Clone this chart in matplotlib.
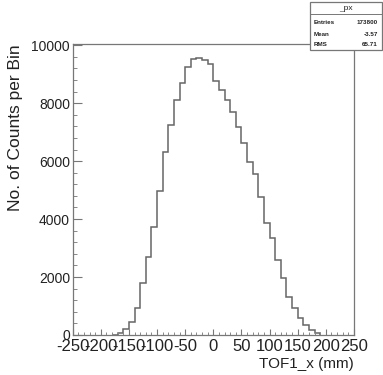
import matplotlib
matplotlib.use("Agg")
import matplotlib.pyplot as plt
from matplotlib.patches import Rectangle
from matplotlib.ticker import MultipleLocator

plt.rcParams['font.family'] = ['Liberation Sans', 'DejaVu Sans']
plt.rcParams['axes.unicode_minus'] = False

# bin edges of the TOF1_x histogram (mm)
bin_edges = [-180, -170, -160, -150, -140, -130, -120, -110, -100, -90,
             -80, -70, -60, -50, -40, -30, -20, -10, 0, 10,
             20, 30, 40, 50, 60, 70, 80, 90, 100, 110,
             120, 130, 140, 150, 160, 170, 180, 190]
# counts per bin
counts = [10, 60, 195, 460, 940, 1780, 2680, 3740, 4980, 6330,
          7230, 8100, 8700, 9250, 9520, 9560, 9480, 9340, 8770, 8450,
          8100, 7700, 7180, 6610, 5980, 5550, 4770, 3850, 3330, 2590,
          1960, 1320, 920, 580, 345, 170, 60]

x_ticks = [-250, -200, -150, -100, -50, 0, 50, 100, 150, 200, 250]
y_ticks = [0, 2000, 4000, 6000, 8000, 10000]

stats_names = ["Entries", "Mean", "RMS"]
stats_values = ["173800", "-3.57", "65.71"]

W, H = 383, 375
fig = plt.figure(figsize=(W / 100, H / 100), dpi=100)
ax = fig.add_axes([72.7 / W, 1 - 335 / H, (354 - 72.7) / W, (335 - 44) / H])

ax.stairs(counts, bin_edges, color='#666666', lw=1.1)

ax.set_xlim(-250, 250)
ax.set_ylim(0, 10040)
ax.set_xticks(x_ticks)
ax.set_xticklabels([str(v) for v in x_ticks])
ax.set_yticks(y_ticks)
ax.set_yticklabels([str(v) for v in y_ticks])
ax.xaxis.set_minor_locator(MultipleLocator(10))
ax.yaxis.set_minor_locator(MultipleLocator(400))

for s in ax.spines.values():
    s.set_color('#777777')
    s.set_linewidth(0.9)

# ROOT style: ticks point into the frame, labels are a bit crowded on x
ax.tick_params(axis='x', which='major', direction='in', length=4.5, width=0.8,
               colors='#777777', labelcolor='#222222', labelsize=12, pad=3)
ax.tick_params(axis='x', which='minor', direction='in', length=2.2, width=0.7,
               colors='#888888')
ax.tick_params(axis='y', which='major', direction='in', length=6.5, width=0.8,
               colors='#777777', labelcolor='#222222', labelsize=10, pad=2)
ax.tick_params(axis='y', which='minor', direction='in', length=3.2, width=0.7,
               colors='#888888')

ax.set_xlabel("TOF1_x (mm)", fontsize=11, color='#222222', loc='right', labelpad=2)
ax.set_ylabel("No. of Counts per Bin", fontsize=12.5, color='#222222', loc='top',
              labelpad=6)

# stats box in the top right corner
bx0, bx1 = 310 / W, 382 / W
by0, by1 = 1 - 50 / H, 1 - 2 / H
fig.add_artist(Rectangle((bx0, by0), bx1 - bx0, by1 - by0, transform=fig.transFigure,
                         facecolor='white', edgecolor='#777777', lw=0.9, zorder=5))
fig.add_artist(plt.Line2D([bx0, bx1], [1 - 14 / H, 1 - 14 / H], transform=fig.transFigure,
                          color='#777777', lw=0.7, zorder=6))
fig.text((bx0 + bx1) / 2, 1 - 8 / H, "_px", ha='center', va='center', fontsize=6,
         color='#222222', zorder=7)
rows_y = [23, 34, 44]
for name, val, yy in zip(stats_names, stats_values, rows_y):
    fig.text(bx0 + 4 / W, 1 - yy / H, name, ha='left', va='center', fontsize=4.5,
             color='#222222', zorder=7, fontweight='bold')
    fig.text(bx1 - 4 / W, 1 - yy / H, val, ha='right', va='center', fontsize=4.5,
             color='#222222', zorder=7, fontweight='bold')

fig.savefig("out.png", dpi=100)
